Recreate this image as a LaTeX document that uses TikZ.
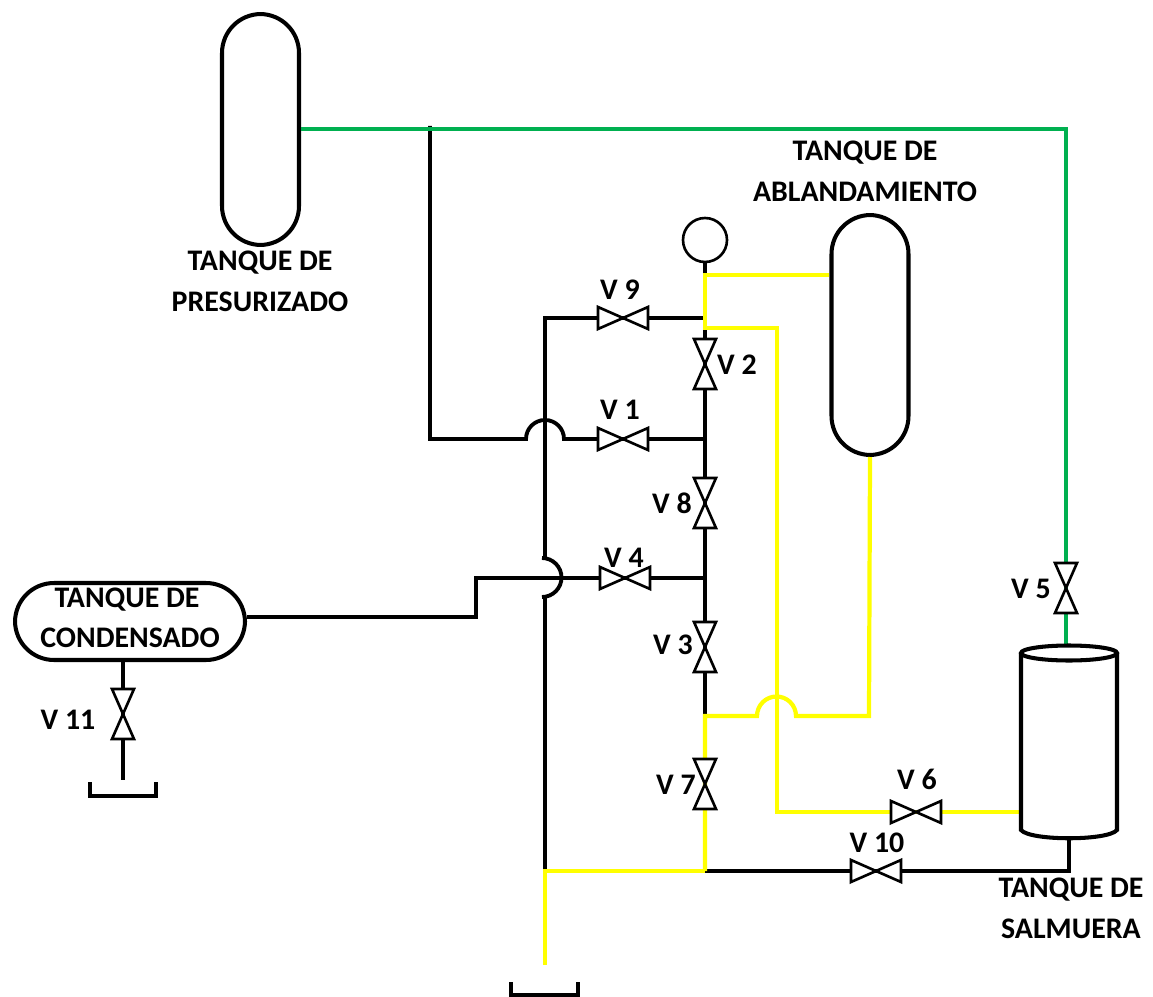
\documentclass[tikz,border=0pt]{standalone}
\usepackage{fontspec}
\setmainfont{Carlito}
\usepackage{tikz}

\definecolor{pipegreen}{RGB}{0,176,80}
\definecolor{pipeyellow}{RGB}{255,255,0}

\tikzset{
	pipe/.style={line width=2.2pt, black},
	water/.style={line width=2.4pt, pipeyellow, line join=miter},
	air/.style={line width=2.2pt, pipegreen},
	tank/.style={draw, line width=2.3pt, fill=white, inner sep=0pt, rounded corners=0.78cm},
	lbl/.style={font=\fontsize{17}{20}\selectfont\bfseries, inner sep=0pt},
	valveh/.pic={\draw[line width=1.5pt, fill=white] (-25,-11) -- (25,11) -- (25,-11) -- (-25,11) -- cycle;},
	valvev/.pic={\draw[line width=1.5pt, fill=white] (-11,-25) -- (11,25) -- (-11,25) -- (11,-25) -- cycle;}
}

\begin{document}
\begin{tikzpicture}[x=0.02cm, y=-0.02cm]
	\useasboundingbox (0,0) rectangle (1153,997);

	% valves
	\coordinate (v1) at (623,439);
	\coordinate (v2) at (705,364);
	\coordinate (v3) at (705,647);
	\coordinate (v4) at (625,578);
	\coordinate (v5) at (1066,588);
	\coordinate (v6) at (916,812);
	\coordinate (v7) at (705,784);
	\coordinate (v8) at (705,503);
	\coordinate (v9) at (623,318);
	\coordinate (v10) at (876,871);
	\coordinate (v11) at (123,714);

	% pipe corners
	\coordinate (a0) at (430,126);
	\coordinate (a1) at (430,439);
	\coordinate (a2) at (526,439);
	\coordinate (a3) at (564,439);
	\coordinate (a4) at (705,439);
	\coordinate (b0) at (545,318);
	\coordinate (b1) at (705,318);
	\coordinate (b2) at (545,558);
	\coordinate (b3) at (542,558);
	\coordinate (b4) at (545,871);
	\coordinate (b5) at (545,597);
	\coordinate (c0) at (476,617);
	\coordinate (c1) at (476,578);
	\coordinate (c2) at (705,578);
	\coordinate (d0) at (705,871);
	\coordinate (d1) at (1069,871);
	\coordinate (d2) at (1069,838);
	\coordinate (e0) at (705,716);
	\coordinate (e1) at (757,716);
	\coordinate (e2) at (796,716);
	\coordinate (e3) at (869,716);
	\coordinate (f0) at (705,275);
	\coordinate (f1) at (705,328);
	\coordinate (f2) at (777,328);
	\coordinate (f3) at (777,812);
	\coordinate (f4) at (1021,812);
	\coordinate (g0) at (1066,129);
	\coordinate (g1) at (1066,646);
	\coordinate (h0) at (545,965);
	\coordinate (k0) at (123,780);

	% tanks
	\node[tank, minimum width=1.54cm, minimum height=4.62cm] (pres) at (260.5,129.5) {};
	\node[tank, minimum width=1.54cm, minimum height=4.8cm] (aband) at (870,335) {};
	\node[tank, minimum width=4.6cm, minimum height=1.54cm] (cond) at (130,621.5) {};
	\node[draw, circle, line width=1.5pt, minimum size=0.88cm, inner sep=0pt] (gauge) at (705,240) {};

	% black lines
	\draw[pipe] (gauge) -- (e0);
	\draw[pipe] (d0) -- (e0);
	\draw[pipe] (a0) -- (a1) -- (a2) arc(180:360:19) -- (a4);
	\draw[pipe] (b1) -- (b0) -- (b2);
	\draw[pipe] (b3) arc(-90:90:19.5);
	\draw[pipe] (b5) -- (b4);
	\draw[pipe] (cond.east |- c0) -- (c0) -- (c1) -- (c2);
	\draw[pipe] (d0) -- (d1) -- (d2);
	\draw[pipe] (cond.south -| v11) -- (k0);

	% yellow lines
	\draw[water] (aband.west |- f0) -- (f0) -- (f1) -- (f2) -- (f3) -- (f4);
	\draw[water] (d0) -- (e0) -- (e1) arc(180:360:19.5) -- (e3) -- (aband.south);
	\draw[water, line width=2.7pt] (h0) -- (b4) -- (d0);

	% green line
	\draw[air] (pres.east |- g0) -- (g0) -- (g1);

	% salmuera tank
	\draw[line width=2.3pt, fill=white] (1021,653) -- (1021,830) .. controls (1030,841) and (1108,841) .. (1117,830) -- (1117,653);
	\draw[line width=2.3pt, fill=white] (1069,653) ellipse (48 and 7.5);

	% trays
	\draw[line width=2.1pt] (90,782) -- (90,796) -- (156,796) -- (156,782);
	\draw[line width=2.1pt] (511,982) -- (511,995) -- (578,995) -- (578,982);

	% valves
	\foreach \i in {v1,v4,v6,v9,v10} {\pic at (\i) {valveh};}
	\foreach \i in {v2,v3,v5,v7,v8,v11} {\pic at (\i) {valvev};}

	% labels
	\node[lbl] (t1a) at (260,263) {TANQUE DE};
	\node[lbl] (t1b) at (260,302) {PRESURIZADO};
	\node[lbl] (t2a) at (865,153) {TANQUE DE};
	\node[lbl] (t2b) at (865,192) {ABLANDAMIENTO};
	\node[lbl] (t3a) at (127,600) {TANQUE DE};
	\node[lbl] (t3b) at (130,638) {CONDENSADO};
	\node[lbl] (t4a) at (1071,890) {TANQUE DE};
	\node[lbl] (t4b) at (1071,929) {SALMUERA};
	\node[lbl] (l1) at (620,410) {V 1};
	\node[lbl] (l2) at (737,365) {V 2};
	\node[lbl] (l3) at (673,645) {V 3};
	\node[lbl] (l4) at (624,558) {V 4};
	\node[lbl] (l5) at (1031,589) {V 5};
	\node[lbl] (l6) at (917,779) {V 6};
	\node[lbl] (l7) at (676,785) {V 7};
	\node[lbl] (l8) at (672,503) {V 8};
	\node[lbl] (l9) at (620,290) {V 9};
	\node[lbl] (l10) at (877,843) {V 10};
	\node[lbl] (l11) at (68,720) {V 11};
\end{tikzpicture}
\end{document}
